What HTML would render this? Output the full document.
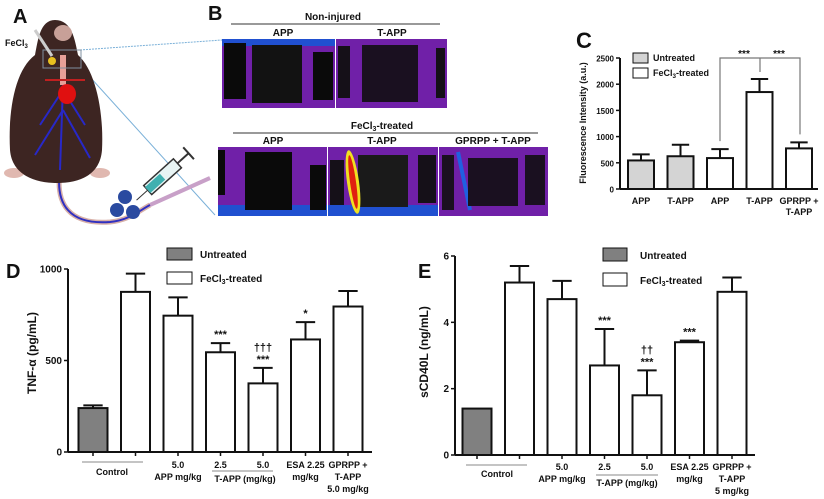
<!DOCTYPE html>
<html><head><meta charset="utf-8">
<style>
html,body{margin:0;padding:0;background:#fff;}
svg{display:block;font-family:"Liberation Sans",Arial,sans-serif;}
text{font-weight:bold;fill:#111;}
</style></head>
<body>
<svg id="fig" width="824" height="499" viewBox="0 0 824 499" xmlns="http://www.w3.org/2000/svg">
<!-- Panel A -->
<g>
  <text x="13" y="23" font-size="20">A</text>
  <line x1="80" y1="50" x2="222" y2="40" stroke="#7ab0d8" stroke-dasharray="2,1"/>
  <line x1="80" y1="66" x2="215" y2="215" stroke="#7ab0d8"/>
  <path d="M60 170 C55 205 70 225 110 222 C130 220 140 210 150 205" stroke="#d8b0a8" stroke-width="5" fill="none"/>
  <path d="M60 170 C55 205 70 225 110 222 C130 220 140 210 150 205 L205 180" stroke="#3030c0" stroke-width="2" fill="none"/>
  <path d="M150 205 L210 178" stroke="#c8a0c8" stroke-width="4" fill="none"/>
  <ellipse cx="14" cy="173" rx="10" ry="5" fill="#e0b8b0"/>
  <ellipse cx="100" cy="173" rx="10" ry="5" fill="#e0b8b0"/>
  <path d="M55 20 C40 20 38 40 35 55 C15 70 8 110 10 150 C12 175 35 183 57 183 C80 183 100 175 102 150 C104 110 95 70 78 55 C75 40 72 20 55 20 Z" fill="#3d2522"/>
  <ellipse cx="63" cy="33" rx="9" ry="8" fill="#c8a098"/>
  <rect x="60" y="55" width="6" height="30" fill="#e8a098"/>
  <path d="M63 90 L40 125 M63 90 L85 125 M63 110 L35 155 M63 110 L90 158" stroke="#2828c8" stroke-width="2" fill="none"/>
  <line x1="63" y1="85" x2="60" y2="170" stroke="#2828c8" stroke-width="2"/>
  <ellipse cx="67" cy="94" rx="9" ry="10" fill="#e01010"/>
  <path d="M45 80 L85 80" stroke="#c02020" stroke-width="2"/>
  <circle cx="52" cy="61" r="4" fill="#e8c020"/>
  <rect x="43" y="50" width="38" height="18" fill="none" stroke="#8090a0" stroke-width="1"/>
  <line x1="35" y1="30" x2="52" y2="56" stroke="#ccc" stroke-width="3"/>
  <text x="5" y="46" font-size="9">FeCl<tspan font-size="6" dy="2">3</tspan></text>
  <g transform="rotate(-42 170 170)">
    <rect x="140" y="164" width="40" height="12" fill="#e8f4f4" stroke="#333" stroke-width="1.5"/>
    <rect x="140" y="166" width="20" height="8" fill="#40b0b0"/>
    <line x1="180" y1="170" x2="195" y2="170" stroke="#333" stroke-width="2"/>
    <line x1="195" y1="162" x2="195" y2="178" stroke="#333" stroke-width="2"/>
    <line x1="125" y1="170" x2="140" y2="170" stroke="#333" stroke-width="1"/>
  </g>
  <circle cx="125" cy="197" r="7" fill="#2a4aa0"/>
  <circle cx="117" cy="210" r="7" fill="#2a4aa0"/>
  <circle cx="133" cy="212" r="7" fill="#2a4aa0"/>
</g>
<!-- Panel B -->
<g>
  <text x="208" y="20" font-size="20">B</text>
  <text x="333" y="20" font-size="10" text-anchor="middle">Non-injured</text>
  <line x1="231" y1="24" x2="440" y2="24" stroke="#333"/>
  <text x="283" y="36" font-size="10" text-anchor="middle">APP</text>
  <text x="392" y="36" font-size="10" text-anchor="middle">T-APP</text>
  <g>
    <rect x="222" y="39" width="113" height="69" fill="#7020a8"/>
    <rect x="222" y="39" width="113" height="7" fill="#2050d0"/>
    <rect x="224" y="43" width="22" height="56" fill="#0a0a0a"/>
    <rect x="252" y="45" width="50" height="58" fill="#121212"/>
    <rect x="313" y="52" width="20" height="48" fill="#0a0a0a"/>
  </g>
  <g>
    <rect x="336" y="39" width="111" height="69" fill="#7020a8"/>
    <rect x="338" y="46" width="12" height="52" fill="#151018"/>
    <rect x="362" y="45" width="56" height="57" fill="#1a1020"/>
    <rect x="436" y="48" width="9" height="50" fill="#151018"/>
  </g>
  <text x="382" y="129" font-size="10" text-anchor="middle">FeCl<tspan font-size="7" dy="2">3</tspan><tspan dy="-2">-treated</tspan></text>
  <line x1="233" y1="133" x2="538" y2="133" stroke="#333"/>
  <text x="273" y="144" font-size="10" text-anchor="middle">APP</text>
  <text x="382" y="144" font-size="10" text-anchor="middle">T-APP</text>
  <text x="493" y="144" font-size="10" text-anchor="middle">GPRPP + T-APP</text>
  <g>
    <rect x="218" y="147" width="109" height="69" fill="#7020a8"/>
    <rect x="218" y="205" width="109" height="11" fill="#2050d0"/>
    <rect x="218" y="150" width="7" height="45" fill="#0a0a0a"/>
    <rect x="245" y="152" width="47" height="58" fill="#0a0a0a"/>
    <rect x="310" y="165" width="16" height="45" fill="#0a0a0a"/>
  </g>
  <g>
    <rect x="328" y="147" width="110" height="69" fill="#7020a8"/>
    <rect x="328" y="205" width="110" height="11" fill="#2050d0"/>
    <rect x="330" y="160" width="14" height="45" fill="#151018"/>
    <rect x="358" y="155" width="50" height="52" fill="#1a1a1a"/>
    <rect x="418" y="155" width="18" height="48" fill="#151018"/>
    <ellipse cx="353" cy="182" rx="6" ry="32" fill="#f0e020" transform="rotate(-8 353 182)"/>
    <ellipse cx="353" cy="182" rx="3" ry="27" fill="#e02010" transform="rotate(-8 353 182)"/>
  </g>
  <g>
    <rect x="439" y="147" width="109" height="69" fill="#7020a8"/>
    <rect x="442" y="155" width="12" height="55" fill="#1a1020"/>
    <line x1="458" y1="152" x2="470" y2="210" stroke="#2060e0" stroke-width="4"/>
    <rect x="468" y="158" width="50" height="48" fill="#1a1020"/>
    <rect x="525" y="155" width="20" height="50" fill="#1a1020"/>
  </g>
</g>
<text x="576" y="48" font-size="22">C</text>
<text x="6" y="278" font-size="20">D</text>
<text x="418" y="278" font-size="20">E</text>
<g id="chartC"></g>
<g id="chartD"></g>
<g id="chartE"></g>
</svg>
<script>
// Chart C data
const cCategories = ["APP","T-APP","APP","T-APP","GPRPP +|T-APP"];
const cValues = [545, 625, 590, 1850, 775];
const cErrors = [115, 220, 170, 250, 115];
const cGroups = ["untreated","untreated","treated","treated","treated"];
const cTicks = [0, 500, 1000, 1500, 2000, 2500];
// Chart D data
const dCategories = ["","","5.0|APP mg/kg","2.5","5.0","ESA 2.25|mg/kg","GPRPP +|T-APP|5.0 mg/kg"];
const dValues = [240, 875, 745, 545, 375, 615, 795];
const dErrors = [15, 100, 100, 50, 85, 95, 85];
const dGroups = ["untreated","treated","treated","treated","treated","treated","treated"];
const dSig = ["","","","***","†††|***","*",""];
const dTicks = [0, 500, 1000];
// Chart E data
const eCategories = ["","","5.0|APP mg/kg","2.5","5.0","ESA 2.25|mg/kg","GPRPP +|T-APP|5 mg/kg"];
const eValues = [1.4, 5.2, 4.7, 2.7, 1.8, 3.4, 4.92];
const eErrors = [0, 0.5, 0.55, 1.1, 0.75, 0.05, 0.43];
const eGroups = ["untreated","treated","treated","treated","treated","treated","treated"];
const eSig = ["","","","***","††|***","***",""];
const eTicks = [0, 2, 4, 6];

const NS = "http://www.w3.org/2000/svg";
function mk(parent, tag, attrs, txt){
  const e = document.createElementNS(NS, tag);
  for (const k in attrs) e.setAttribute(k, attrs[k]);
  if (txt !== undefined) e.textContent = txt;
  parent.appendChild(e);
  return e;
}
function drawChart(g, o){
  const yS = v => o.y0 - (v - o.min) / (o.max - o.min) * (o.y0 - o.y1);
  const axis = mk(g, "g", {});
  
  
  mk(axis, "line", {x1:o.x0, y1:o.y1, x2:o.x0, y2:o.y0, stroke:"#111", "stroke-width":2});
  const xa = mk(g, "line", {x1:o.x0, y1:o.y0, x2:o.xEnd, y2:o.y0, stroke:"#111", "stroke-width":2});
  
  
  o.ticks.forEach(t => {
    mk(axis, "line", {x1:o.x0-4, y1:yS(t), x2:o.x0, y2:yS(t), stroke:"#111", "stroke-width":1.5});
    const tl = mk(axis, "text", {x:o.x0-6, y:yS(t)+3.5, "font-size":o.tickFs, "text-anchor":"end"}, String(t));
    
    
  });
  const yt = mk(g, "text", {x:o.ylx, y:o.yly, "font-size":o.ylFs, "text-anchor":"middle", transform:`rotate(-90 ${o.ylx} ${o.yly})`}, o.ylabel);
  
  
  o.values.forEach((v, i) => {
    const cx = o.bx0 + i * o.step;
    const left = cx - o.bw/2;
    const col = o.groups[i] === "untreated" ? o.untreatedFill : "#fff";
    const yt2 = yS(v + o.errors[i]);
    if (o.errors[i] > 0) {
      const eb = mk(g, "path", {d:`M${cx} ${yS(v)} V${yt2} M${cx-o.bw/3} ${yt2} H${cx+o.bw/3}`, stroke:"#111", "stroke-width":2, fill:"none"});
      
      
    }
    const b = mk(g, "rect", {x:left, y:yS(v), width:o.bw, height:o.y0 - yS(v), fill:col, stroke:"#111", "stroke-width":2});
    
    
    if (o.xTickMarks) mk(g, "line", {x1:cx, y1:o.y0, x2:cx, y2:o.y0+4, stroke:"#111", "stroke-width":1.5});
    const lines = o.categories[i] ? o.categories[i].split("|") : [];
    lines.forEach((l, j) => {
      const t = mk(g, "text", {x:cx, y:o.xly + j * o.xlh, "font-size":o.xFs, "text-anchor":"middle"}, l);
      
      
    });
    if (o.sig && o.sig[i]) {
      const sl = o.sig[i].split("|");
      sl.forEach((s, j) => {
        const t = mk(g, "text", {x:cx, y:yt2 - 5 - (sl.length-1-j)*12, "font-size":11, "text-anchor":"middle"}, s);
        
        
      });
    }
  });
  const lg = mk(g, "g", {});
  
  
  const L = o.legend;
  const r1 = mk(lg, "rect", {x:L.x, y:L.y1, width:L.w, height:L.h, fill:o.untreatedFill, stroke:"#111", "stroke-width":1});
  
  
  mk(lg, "text", {x:L.x+L.w+L.gap, y:L.y1+L.h-2, "font-size":L.fs}, "Untreated");
  const r2 = mk(lg, "rect", {x:L.x, y:L.y2, width:L.w, height:L.h, fill:"#fff", stroke:"#111", "stroke-width":1});
  
  
  const t2 = mk(lg, "text", {x:L.x+L.w+L.gap, y:L.y2+L.h-2, "font-size":L.fs}, "FeCl");
  mk(t2, "tspan", {"font-size":L.fs*0.7, dy:2}, "3");
  mk(t2, "tspan", {dy:-2}, "-treated");
  return yS;
}
const gC = document.getElementById("chartC");
drawChart(gC, {x0:620, xEnd:818, y0:189, y1:58, min:0, max:2500, ticks:cTicks, tickFs:8,
  ylabel:"Fluorescence Intensity (a.u.)", ylx:586, yly:123, ylFs:9,
  values:cValues, errors:cErrors, groups:cGroups, categories:cCategories,
  bx0:641, step:39.5, bw:26, untreatedFill:"#d4d4d4", xly:204, xlh:11, xFs:9, xTickMarks:false,
  legend:{x:633, y1:53, y2:68, w:15, h:10, gap:5, fs:9}});
(function(){
  const yS = v => 189 - v/2500*131;
  const br = mk(gC, "path", {d:`M720 ${yS(cValues[2]+cErrors[2])-8} V58 H760 V72 M760 58 H800 V${yS(cValues[4]+cErrors[4])-8}`, stroke:"#777", "stroke-width":1.2, fill:"none"});
  
  
  mk(gC, "text", {x:744, y:57, "font-size":10, "text-anchor":"middle"}, "***");
  mk(gC, "text", {x:779, y:57, "font-size":10, "text-anchor":"middle"}, "***");
})();
const gD = document.getElementById("chartD");
drawChart(gD, {x0:68, xEnd:372, y0:452, y1:269, min:0, max:1000, ticks:dTicks, tickFs:10,
  ylabel:"TNF-α (pg/mL)", ylx:36, yly:353, ylFs:12,
  values:dValues, errors:dErrors, groups:dGroups, categories:dCategories, sig:dSig,
  bx0:93, step:42.5, bw:29, untreatedFill:"#808080", xly:468, xlh:12, xFs:9, xTickMarks:true,
  legend:{x:167, y1:248, y2:272, w:25, h:12, gap:8, fs:10}});
mk(gD, "line", {x1:82, y1:462, x2:143, y2:462, stroke:"#888"});
mk(gD, "text", {x:112, y:475, "font-size":9, "text-anchor":"middle"}, "Control");
mk(gD, "line", {x1:212, y1:471, x2:273, y2:471, stroke:"#888"});
mk(gD, "text", {x:245, y:482, "font-size":9, "text-anchor":"middle"}, "T-APP (mg/kg)");
const gE = document.getElementById("chartE");
drawChart(gE, {x0:455, xEnd:755, y0:455, y1:256, min:0, max:6, ticks:eTicks, tickFs:10,
  ylabel:"sCD40L  (ng/mL)", ylx:428, yly:352, ylFs:12,
  values:eValues, errors:eErrors, groups:eGroups, categories:eCategories, sig:eSig,
  bx0:477, step:42.5, bw:29, untreatedFill:"#808080", xly:470, xlh:12, xFs:9, xTickMarks:true,
  legend:{x:603, y1:248, y2:273, w:24, h:13, gap:13, fs:10}});
mk(gE, "line", {x1:466, y1:465, x2:527, y2:465, stroke:"#888"});
mk(gE, "text", {x:497, y:477, "font-size":9, "text-anchor":"middle"}, "Control");
mk(gE, "line", {x1:596, y1:475, x2:658, y2:475, stroke:"#888"});
mk(gE, "text", {x:627, y:486, "font-size":9, "text-anchor":"middle"}, "T-APP (mg/kg)");
</script>
</body></html>
